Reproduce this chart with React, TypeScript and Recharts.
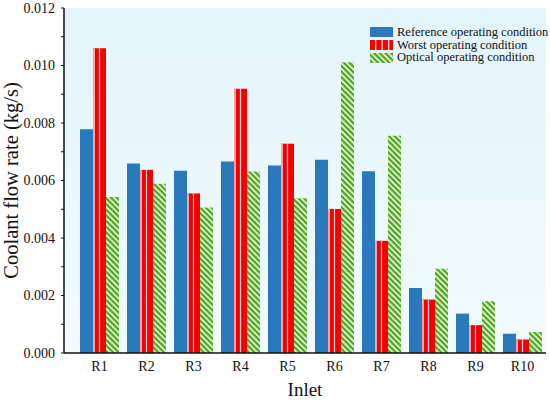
import { BarChart, Bar, XAxis, YAxis, Legend, CartesianGrid } from "recharts";

const categories = ["R1", "R2", "R3", "R4", "R5", "R6", "R7", "R8", "R9", "R10"];
const reference = [0.00778, 0.00659, 0.00634, 0.00666, 0.00652, 0.00672, 0.00632, 0.00226, 0.00137, 0.00067];
const worst = [0.0106, 0.00637, 0.00555, 0.00919, 0.00728, 0.00501, 0.0039, 0.00186, 0.00097, 0.00047];
const optical = [0.00543, 0.00589, 0.00506, 0.00631, 0.00538, 0.01011, 0.00756, 0.00293, 0.0018, 0.00073];
const yTicks = [0, 0.001, 0.002, 0.003, 0.004, 0.005, 0.006, 0.007, 0.008, 0.009, 0.01, 0.011, 0.012];
const seriesNames = ["Reference operating condition", "Worst operating condition", "Optical operating condition"];

const data = categories.map((name, i) => ({
  name,
  reference: reference[i],
  worst: worst[i],
  optical: optical[i],
}));

const FONT = "Times New Roman, Liberation Serif, serif";
const BLUE = "#2a79bc";
const RED = "#f40000";
const GREEN = "#4ea81a";

// red bars: solid red with a pink left edge and a white line down the middle
function WorstShape(props: any) {
  const { x, y, width, height } = props;
  if (!height || height <= 0) return null;
  return (
    <g>
      <rect x={x} y={y} width={width} height={height} fill={RED} />
      <rect x={x} y={y} width={2} height={height} fill="#f7a3a3" />
      <rect x={x + width / 2 - 0.6} y={y} width={1.2} height={height} fill="#ffd6d6" />
    </g>
  );
}

function Swatch({ kind }: { kind: number }) {
  return (
    <svg width={23} height={10} style={{ display: "block", marginRight: 4 }}>
      {kind === 0 && <rect width={23} height={10} fill={BLUE} />}
      {kind === 1 && (
        <g>
          <rect width={23} height={10} fill={RED} />
          <rect x={5} width={1.3} height={10} fill="#ffe0e0" />
          <rect x={11.5} width={1.3} height={10} fill="#ffe0e0" />
          <rect x={18} width={1.3} height={10} fill="#ffe0e0" />
        </g>
      )}
      {kind === 2 && <rect width={23} height={10} fill="url(#greenHatch)" />}
    </svg>
  );
}

function LegendBox() {
  return (
    <div style={{ fontFamily: FONT, fontSize: 12.5, color: "#111", whiteSpace: "nowrap" }}>
      {seriesNames.map((n, i) => (
        <div key={n} style={{ display: "flex", alignItems: "center", height: 12.7 }}>
          <Swatch kind={i} />
          <span>{n}</span>
        </div>
      ))}
    </div>
  );
}

const yFormat = (v: number) => (Math.round(v * 1000) % 2 === 0 ? v.toFixed(3) : "");

export default function App() {
  return (
    <div style={{ position: "absolute", left: 0, top: 0, width: 550, height: 403, background: "#fff" }}>
      <svg width={0} height={0} style={{ position: "absolute" }}>
        <defs>
          <linearGradient id="bgGrad" x1="0" y1="0" x2="0" y2="1">
            <stop offset="0%" stopColor="#e3f5fc" />
            <stop offset="100%" stopColor="#f2fbfe" />
          </linearGradient>
          <pattern id="greenHatch" patternUnits="userSpaceOnUse" width={4} height={4} patternTransform="rotate(-45)">
            <rect width={4} height={4} fill={GREEN} />
            <rect width={1.5} height={4} fill="#ffffff" />
          </pattern>
        </defs>
      </svg>
      <BarChart
        width={550}
        height={403}
        data={data}
        margin={{ top: 8, right: 4, left: 0, bottom: 0 }}
        barGap={0}
        barCategoryGap={4}
        style={{ fontFamily: FONT }}
      >
        <CartesianGrid fill="url(#bgGrad)" horizontal={false} vertical={false} />
        <XAxis
          dataKey="name"
          height={50}
          padding={{ left: 12, right: 0 }}
          tickLine={false}
          tickSize={6}
          tickMargin={2}
          axisLine={{ stroke: "#111", strokeWidth: 1.5 }}
          tick={{ fill: "#111", fontSize: 14, fontFamily: FONT }}
          interval={0}
          label={{ value: "Inlet", position: "insideBottom", offset: 7, fill: "#111", fontSize: 19, fontFamily: FONT }}
        />
        <XAxis xAxisId="top" dataKey="name" orientation="top" height={0} tick={false} tickLine={false} axisLine={{ stroke: "#333", strokeWidth: 1.5 }} />
        <YAxis
          width={64}
          domain={[0, 0.012]}
          ticks={yTicks}
          interval={0}
          tickFormatter={yFormat}
          tickSize={3}
          tickMargin={6}
          tickLine={{ stroke: "#111" }}
          axisLine={{ stroke: "#111", strokeWidth: 1.5 }}
          tick={{ fill: "#111", fontSize: 14, fontFamily: FONT }}
          label={{
            value: "Coolant flow rate (kg/s)",
            angle: -90,
            position: "insideLeft",
            offset: 11,
            fill: "#111",
            fontSize: 20.5,
            fontFamily: FONT,
            style: { textAnchor: "middle", fontFamily: FONT },
          }}
        />
        <YAxis yAxisId="right" orientation="right" width={0} domain={[0, 0.012]} tick={false} tickLine={false} axisLine={{ stroke: "#333", strokeWidth: 1.5 }} />
        <Legend
          layout="vertical"
          align="center"
          verticalAlign="middle"
          content={() => <LegendBox />}
          wrapperStyle={{ position: "absolute", top: 26, left: 370, width: 180, height: 40 }}
        />
        <Bar dataKey="reference" name={seriesNames[0]} fill={BLUE} barSize={13} isAnimationActive={false} />
        <Bar dataKey="worst" name={seriesNames[1]} fill={RED} barSize={13} shape={WorstShape} isAnimationActive={false} />
        <Bar dataKey="optical" name={seriesNames[2]} fill="url(#greenHatch)" barSize={13} isAnimationActive={false} />
      </BarChart>
    </div>
  );
}
